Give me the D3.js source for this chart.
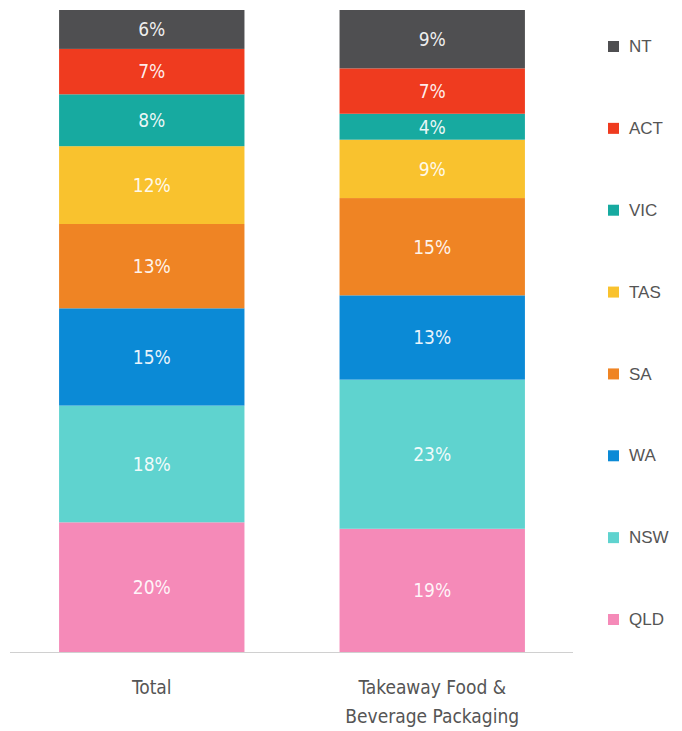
<!DOCTYPE html>
<html>
<head>
<meta charset="utf-8">
<script src="https://cdn.jsdelivr.net/npm/d3@7"></script>
<style>
  html, body { margin: 0; padding: 0; background: #fff; }
  svg { display: block; }
</style>
</head>
<body>
<svg id="chart" width="682" height="731"></svg>
<script>
// Share of litter by state, per category (percent)
const categories = ["Total", "Takeaway Food & Beverage Packaging"];
const categoryLines = [["Total"], ["Takeaway Food &", "Beverage Packaging"]];
const states = ["QLD", "NSW", "WA", "SA", "TAS", "VIC", "ACT", "NT"];
const totalValues =    [20, 18, 15, 13, 12, 8, 7, 6];
const takeawayValues = [19, 23, 13, 15, 9, 4, 7, 9];
const stateColors = ["#f58ab8", "#5fd3cf", "#0b8ad6", "#ef8424", "#f9c22e", "#17aaa0", "#ef3b1f", "#4f4f51"];

const seriesByCategory = [totalValues, takeawayValues];
const rows = categories.map((c, i) => {
  const row = { category: c };
  states.forEach((s, j) => row[s] = seriesByCategory[i][j]);
  return row;
});

const svg = d3.select("#chart");
const labelFont = "'DejaVu Sans Condensed', 'Liberation Sans', sans-serif";

const x = d3.scaleBand().domain(categories).range([10, 574]).paddingInner(0.339).paddingOuter(0.175);
const maxSum = d3.max(seriesByCategory, v => d3.sum(v));
const y = d3.scaleLinear().domain([0, maxSum]).range([652, 10]);
const color = d3.scaleOrdinal().domain(states).range(stateColors);

const stacked = d3.stack().keys(states)(rows);

const layers = svg.append("g").selectAll("g")
  .data(stacked).join("g")
  .attr("fill", d => color(d.key));

layers.selectAll("rect")
  .data(d => d.map(p => ({ p, key: d.key })))
  .join("rect")
  .attr("x", d => x(d.p.data.category))
  .attr("width", x.bandwidth())
  .attr("y", d => y(d.p[1]))
  .attr("height", d => y(d.p[0]) - y(d.p[1]));

layers.selectAll("text")
  .data(d => d.map(p => ({ p, key: d.key })))
  .join("text")
  .attr("x", d => x(d.p.data.category) + x.bandwidth() / 2)
  .attr("y", d => (y(d.p[0]) + y(d.p[1])) / 2)
  .attr("dy", "0.36em")
  .attr("text-anchor", "middle")
  .attr("fill", "#fff")
  .attr("fill-opacity", 0.92)
  .style("font-family", labelFont)
  .style("font-size", "19px")
  .text(d => (d.p[1] - d.p[0]) + "%");

// Baseline
svg.append("line")
  .attr("x1", 10).attr("x2", 573)
  .attr("y1", y(0) + 0.5).attr("y2", y(0) + 0.5)
  .attr("stroke", "#d0d0d0").attr("stroke-width", 1.2);

// Category labels
const catLabels = svg.append("g").selectAll("text")
  .data(categories).join("text")
  .attr("x", c => x(c) + x.bandwidth() / 2)
  .attr("y", 694)
  .attr("text-anchor", "middle")
  .attr("fill", "#555")
  .style("font-family", labelFont)
  .style("font-size", "19px");
catLabels.each(function(c, i) {
  d3.select(this).selectAll("tspan")
    .data(categoryLines[i]).join("tspan")
    .attr("x", x(c) + x.bandwidth() / 2)
    .attr("dy", (t, k) => k === 0 ? 0 : "1.5em")
    .text(t => t);
});

// Legend, top to bottom in stack order reversed
const legendOrder = states.slice().reverse();
const ly = d3.scalePoint().domain(legendOrder).range([46, 619]);
const legend = svg.append("g").selectAll("g")
  .data(legendOrder).join("g")
  .attr("transform", s => `translate(608,${ly(s)})`);
legend.append("rect")
  .attr("x", 0).attr("y", -5).attr("width", 11).attr("height", 11)
  .attr("fill", s => color(s));
legend.append("text")
  .attr("x", 21).attr("y", 0).attr("dy", "0.36em")
  .attr("fill", "#555")
  .style("font-family", "'Liberation Sans', Arial, sans-serif")
  .style("font-size", "17px")
  .text(s => s);
</script>
</body>
</html>
